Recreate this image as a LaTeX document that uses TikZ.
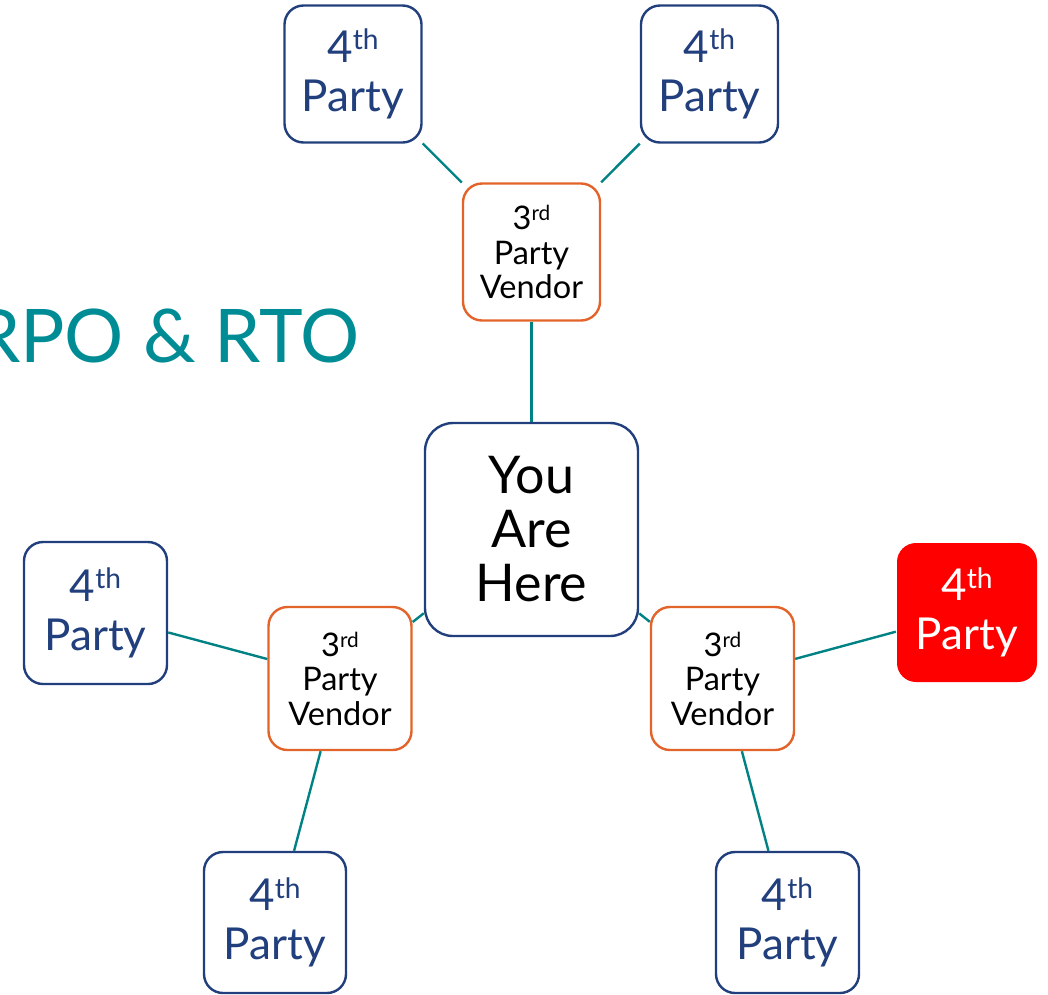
\documentclass[tikz,border=0pt]{standalone}
\usepackage{fontspec}
\setmainfont{Lato}
\definecolor{navy}{RGB}{33,63,125}
\definecolor{vendororange}{RGB}{226,100,42}
\definecolor{linkteal}{RGB}{0,130,132}
\definecolor{titleteal}{RGB}{0,140,148}
\definecolor{alertred}{RGB}{255,0,0}
\newcommand{\sups}[1]{\raisebox{0.55ex}{\scalebox{0.64}{#1}}}
\tikzset{
  partybox/.style={draw=navy, line width=2.4pt, rounded corners=19pt, fill=white,
    minimum width=137pt, minimum height=137pt, align=center, text=navy,
    font=\fontsize{44}{49}\selectfont},
  vendorbox/.style={draw=vendororange, line width=2.4pt, rounded corners=19pt, fill=white,
    minimum width=137pt, minimum height=137pt, align=center, text=black,
    font=\fontsize{32.5}{34.5}\selectfont},
  hubbox/.style={draw=navy, line width=2.4pt, rounded corners=28pt, fill=white,
    minimum width=213pt, minimum height=213pt, align=center, text=black,
    font=\fontsize{52}{54}\selectfont},
  alertbox/.style={partybox, draw=none, fill=alertred, text=white},
  link/.style={draw=linkteal, line width=2.4pt}
}
\begin{document}
\begin{tikzpicture}[x=1pt, y=-1pt]
\useasboundingbox (0,0) rectangle (1048,994);
\clip (0,0) rectangle (1048,994);

% title
\node[anchor=base east, text=titleteal, font=\fontsize{74}{80}\selectfont, inner sep=0pt]
  (title) at (360,362) {RPO \& RTO};

% central node
\node[hubbox] (hub) at (531.5,529.5) {You\\Are\\Here};

% third-party vendors
\node[vendorbox] (vtop) at (531.5,252) {3\sups{rd}\\Party\\Vendor};
\node[vendorbox, minimum width=143pt, minimum height=143pt] (vleft) at (340,678.5) {3\sups{rd}\\Party\\Vendor};
\node[vendorbox, minimum width=143pt, minimum height=143pt] (vright) at (722.5,678.5) {3\sups{rd}\\Party\\Vendor};

% fourth parties
\node[partybox] (ptl) at (353,74) {4\sups{th}\\Party};
\node[partybox] (ptr) at (709.5,74) {4\sups{th}\\Party};
\node[partybox, minimum width=143pt, minimum height=142pt] (pleft) at (95.5,613) {4\sups{th}\\Party};
\node[alertbox, minimum width=140pt, minimum height=139pt] (pred) at (967,612.5) {4\sups{th}\\Party};
\node[partybox, minimum width=142pt, minimum height=141pt] (pbl) at (275,922.5) {4\sups{th}\\Party};
\node[partybox, minimum width=143pt, minimum height=141pt] (pbr) at (787.5,922.5) {4\sups{th}\\Party};

% connectors
\path[link] (ptl) -- (vtop);
\path[link] (ptr) -- (vtop);
\path[link] (vtop) -- (hub);
\path[link] (hub) -- (vleft);
\path[link] (hub) -- (vright);
\path[link] (pleft) -- (vleft);
\path[link] (vleft) -- (pbl);
\path[link] (pred) -- (vright);
\path[link] (vright) -- (pbr);
\end{tikzpicture}
\end{document}
